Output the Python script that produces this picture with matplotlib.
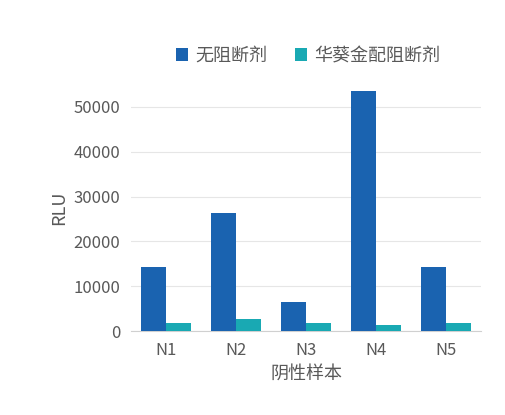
import matplotlib
matplotlib.use("Agg")
import matplotlib.pyplot as plt
import numpy as np

plt.rcParams['font.family'] = ['Noto Sans CJK SC', 'DejaVu Sans']

samples = ['N1', 'N2', 'N3', 'N4', 'N5']
no_blocker = [14300, 26300, 6500, 53600, 14300]
with_blocker = [1800, 2700, 1800, 1300, 1800]

txt = '#595959'
fig = plt.figure(figsize=(5.05, 4.15), dpi=100)
ax = fig.add_axes([0.26, 0.2024, 0.692, 0.594])

x = np.arange(len(samples))
w = 0.36
ax.bar(x - w / 2, no_blocker, w, color='#1a63b0', label='无阻断剂', zorder=3)
ax.bar(x + w / 2, with_blocker, w, color='#19a9b3', label='华葵金配阻断剂', zorder=3)

ax.set_xlim(-0.5, 4.5)
ax.set_ylim(0, 55000)
ax.set_yticks(range(0, 50001, 10000))
ax.set_xticks(x)
ax.set_xticklabels(samples)
ax.yaxis.grid(True, color='#e6e6e6', lw=0.8, zorder=0)
for s in ['top', 'right', 'left']:
    ax.spines[s].set_visible(False)
ax.spines['bottom'].set_color('#d0d0d0')
ax.tick_params(length=0, labelsize=12, colors=txt, pad=8)
ax.set_ylabel('RLU', fontsize=13, color=txt)
ax.set_xlabel('阴性样本', fontsize=13, color=txt)

fig.legend(loc='center', bbox_to_anchor=(0.61, 0.865), ncol=2, frameon=False,
           fontsize=13, labelcolor=txt, handlelength=0.7, handleheight=0.7,
           columnspacing=1.5, handletextpad=0.4)

fig.savefig('out.png', dpi=100)
